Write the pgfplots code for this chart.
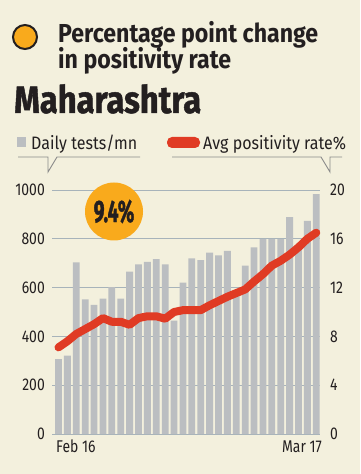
\documentclass[border=0pt]{standalone}
\usepackage{pgfplots}
\pgfplotsset{compat=1.18}
\usepackage{fontspec}
\setmainfont{Fira Sans}[FakeStretch=0.82]
\newfontfamily\legfont{Fira Sans}[FakeStretch=0.89]
\newfontfamily\bubblefont{Fira Sans}[FakeStretch=0.62, FakeBold=1.2]
\newfontfamily\titlefont{Fira Sans}[FakeStretch=0.89]
\newfontfamily\statefont{Fira Sans}[FakeStretch=0.86, FakeBold=1.2]
\definecolor{bgc}{HTML}{F3F0DD}
\definecolor{barc}{HTML}{BBBEC1}
\definecolor{gridc}{HTML}{A7B3BA}
\definecolor{linec}{HTML}{E03B24}
\definecolor{orangec}{HTML}{F9AA1C}
\definecolor{txt}{HTML}{231F20}
\definecolor{callc}{HTML}{8A8A8A}
\pgfplotstableread{
x tests rate
1 307 7.1
2 321 7.6
3 703 8.2
4 552 8.6
5 529 9.0
6 555 9.5
7 602 9.2
8 555 9.2
9 665 8.95
10 695 9.5
11 705 9.65
12 717 9.65
13 695 9.45
14 465 10.0
15 620 10.15
16 720 10.15
17 713 10.15
18 743 10.55
19 732 10.9
20 750 11.25
21 565 11.55
22 690 11.85
23 765 12.5
24 800 13.1
25 800 13.8
26 800 14.2
27 889 14.7
28 760 15.3
29 873 16.0
30 983 16.5
}\datatable
\begin{document}
\begin{tikzpicture}
\fill[bgc] (0pt,0pt) rectangle (360pt,474pt);
% title
\draw[txt, line width=2pt, fill=orangec] (25pt,437pt) circle (12pt);
\node[anchor=base west, inner sep=0pt, text=txt, font=\titlefont\fontsize{26}{28}\selectfont\bfseries] at (58pt,431pt) {Percentage point change};
\node[anchor=base west, inner sep=0pt, text=txt, font=\titlefont\fontsize{26}{28}\selectfont\bfseries] at (58pt,405pt) {in positivity rate};
\node[anchor=base west, inner sep=0pt, text=txt, font=\statefont\fontsize{38}{40}\selectfont\bfseries] at (14pt,361pt) {Maharashtra};
% legend
\fill[barc] (17pt,327pt) rectangle (26pt,337pt);
\node[anchor=base west, inner sep=0pt, text=txt, font=\legfont\fontsize{18}{20}\selectfont] at (31pt,324pt) {Daily tests/mn};
\fill[linec, rounded corners=5pt] (167pt,326pt) rectangle (200pt,337pt);
\node[anchor=base west, inner sep=0pt, text=txt, font=\legfont\fontsize{18}{20}\selectfont] at (203pt,324pt) {Avg positivity rate\%};
\draw[callc, line width=0.9pt] (18pt,317pt)--(48pt,317pt)--(48pt,302pt)--(57pt,317pt)--(140pt,317pt);
\draw[callc, line width=0.9pt] (172pt,317pt)--(321pt,317pt)--(330pt,302pt)--(330pt,317pt)--(342pt,317pt);
% bars axis
\begin{axis}[at={(52pt,40pt)}, anchor=south west, scale only axis,
  width=268pt, height=244pt, xmin=0.27, xmax=30.42, ymin=0, ymax=1000,
  axis line style={draw=none}, major tick length=0pt,
  xtick=\empty, ytick={0,200,...,1000},
  ymajorgrids, grid style={gridc, line width=0.8pt},
  /pgf/number format/assume math mode=true,
  /pgf/number format/1000 sep={},
  yticklabel style={font=\fontsize{17}{18}\selectfont, text=txt, anchor=east, inner sep=0pt, xshift=-7pt},
  clip=false]
\addplot[ybar, bar width=6.8pt, fill=barc, draw=none] table[x=x,y=tests]{\datatable};
\end{axis}
% line axis
\begin{axis}[at={(52pt,40pt)}, anchor=south west, scale only axis,
  width=268pt, height=244pt, xmin=0.27, xmax=30.42, ymin=0, ymax=20,
  axis y line*=right, axis x line=none,
  axis line style={draw=none}, major tick length=0pt,
  xtick=\empty, ytick={0,4,...,20},
  /pgf/number format/assume math mode=true,
  yticklabel style={font=\fontsize{17}{18}\selectfont, text=txt, anchor=west, inner sep=0pt, xshift=10pt},
  clip=false]
\addplot[linec, line width=8pt, line cap=round, line join=round] table[x=x,y=rate]{\datatable};
\end{axis}
% x labels
\node[anchor=base west, inner sep=0pt, text=txt, font=\fontsize{17}{18}\selectfont] at (56pt,21pt) {Feb 16};
\node[anchor=base east, inner sep=0pt, text=txt, font=\fontsize{17}{18}\selectfont] at (322pt,21pt) {Mar 17};
% bubble
\fill[orangec] (114pt,262.5pt) circle (29pt);
\node[inner sep=0pt, text=txt, font=\bubblefont\fontsize{31}{32}\selectfont\bfseries] at (114pt,262.5pt) {9.4\%};
\end{tikzpicture}
\end{document}
